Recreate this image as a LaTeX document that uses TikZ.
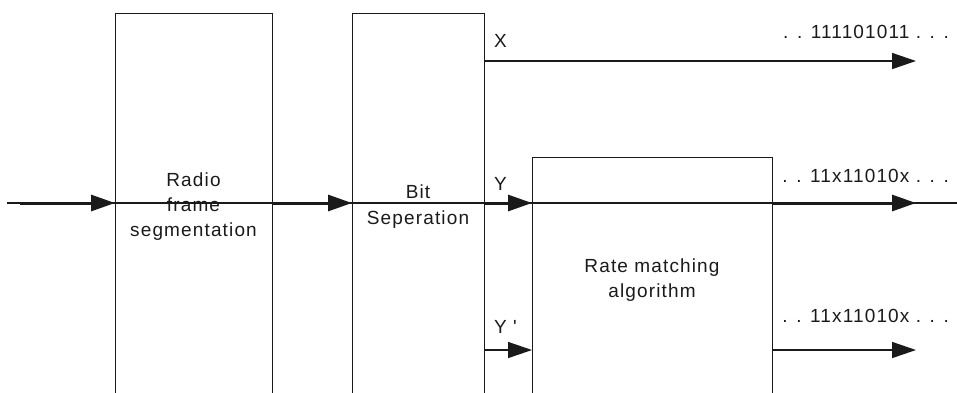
\documentclass[tikz,border=0pt]{standalone}
\usepackage{fontspec}
\setmainfont[LetterSpace=6]{Liberation Sans}
\usetikzlibrary{arrows.meta}
\definecolor{ink}{HTML}{1A1A1A}
\tikzset{
  blk/.style={draw=ink, line width=1pt, anchor=north west, inner sep=0pt},
  lbl/.style={anchor=base, inner sep=0pt, text=ink, font=\fontsize{19}{23}\selectfont},
  tip/.style={-{Triangle[length=24pt,width=16pt]}},
  thick arr/.style={tip, draw=ink, line width=3pt},
  thin arr/.style={tip, draw=ink, line width=1.5pt},
}
\begin{document}
\begin{tikzpicture}[x=1pt,y=-1pt]
\useasboundingbox (0,0) rectangle (957,392);
\clip (0,0) rectangle (957,392);
% boxes
\node[blk, minimum width=157pt, minimum height=400pt] (rf) at (115,13) {};
\node[blk, minimum width=132pt, minimum height=400pt] (bs) at (352,13) {};
\node[blk, minimum width=240pt, minimum height=260pt] (rm) at (532,157) {};
% coordinates
\coordinate (in) at (7,203);
\coordinate (in2) at (20,203);
\coordinate (rfL) at (115,203);
\coordinate (rfR) at (272,203);
\coordinate (bsL) at (352,203);
\coordinate (bsR) at (484,203);
\coordinate (rmL) at (532,203);
\coordinate (rmR) at (772,203);
\coordinate (outY) at (916,203);
\coordinate (endY) at (957,203);
\coordinate (xs) at (484,61);
\coordinate (xe) at (916,61);
\coordinate (ps) at (484,350);
\coordinate (pe) at (532,350);
\coordinate (qs) at (772,350);
\coordinate (qe) at (916,350);
% main line
\draw[ink, line width=2pt] (in) -- (endY);
\draw[thick arr] (in2) -- (rfL);
\draw[thick arr] (rfR) -- (bsL);
\draw[thick arr] (bsR) -- (rmL);
\draw[thick arr] (rmR) -- (outY);
% X and Y' lines
\draw[thin arr] (xs) -- (xe);
\draw[thin arr] (ps) -- (pe);
\draw[thin arr] (qs) -- (qe);
% box texts
\node[lbl] (t1a) at (193.5,186) {Radio};
\node[lbl] (t1b) at (193.5,211) {frame};
\node[lbl] (t1c) at (193.5,236) {segmentation};
\node[lbl] (t2a) at (418,198) {Bit};
\node[lbl] (t2b) at (418,224) {Seperation};
\node[lbl] (t3a) at (652,272) {Rate matching};
\node[lbl] (t3b) at (652,297) {algorithm};
% signal labels
\node[lbl, anchor=base west] (lx) at (494,47) {X};
\node[lbl, anchor=base west] (ly) at (494,190) {Y};
\node[lbl, anchor=base west] (lyp) at (494,333) {Y\,\,\textquotesingle};
% output labels
\node[lbl, anchor=base east] (ox) at (949,38) {. . 111101011 . . .};
\node[lbl, anchor=base east] (oy) at (949,182) {. . 11x11010x . . .};
\node[lbl, anchor=base east] (oyp) at (949,322) {. . 11x11010x . . .};
\end{tikzpicture}
\end{document}
